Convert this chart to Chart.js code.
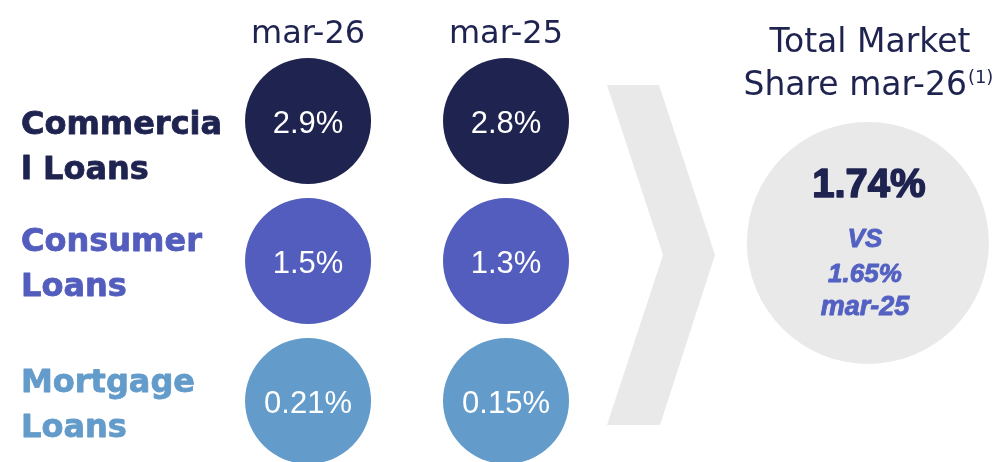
<!DOCTYPE html>
<html>
<head>
<meta charset="utf-8">
<script src="https://cdn.jsdelivr.net/npm/chart.js@4/dist/chart.umd.min.js"></script>
<style>
  html, body { margin: 0; padding: 0; background: #ffffff; }
  #wrap { width: 995px; height: 462px; position: relative; }
</style>
</head>
<body>
<div id="wrap"><canvas id="chart"></canvas></div>
<script>
// data
const periods = ['mar-26', 'mar-25'];
const categories = ['Commercial Loans', 'Consumer Loans', 'Mortgage Loans'];
const categoryLines = [['Commercia', 'l Loans'], ['Consumer', 'Loans'], ['Mortgage', 'Loans']];
const shareMar26 = [2.9, 1.5, 0.21];
const shareMar25 = [2.8, 1.3, 0.15];
const shareDecimals = [1, 1, 2];
const totalShareMar26 = 1.74;
const totalShareMar25 = 1.65;

// styling / layout
const COLORS = {
  navy: '#1f2350',
  rows: ['#1f2350', '#525dbd', '#639bca'],
  grey: '#e9e9e9',
  accent: '#5361c2'
};
const WORD_FONT = '"DejaVu Sans", sans-serif';
const NUM_FONT = '"Liberation Sans", Arial, sans-serif';
const labelOffset = [13, -10, -9];   // first baseline vs bubble centre
const totalPos = { x: 2.828, y: 0.871 };

const fmt = (v, d) => v.toFixed(d) + '%';

const rowDatasets = categories.map((name, r) => ({
  label: name,
  data: [
    { x: 0, y: r, v: shareMar26[r] },
    { x: 1, y: r, v: shareMar25[r] }
  ],
  backgroundColor: COLORS.rows[r],
  borderWidth: 0,
  pointRadius: 63,
  pointHoverRadius: 63,
  clip: false
}));

const totalDataset = {
  label: 'Total Market Share',
  data: [{ x: totalPos.x, y: totalPos.y, v: totalShareMar26 }],
  backgroundColor: COLORS.grey,
  borderWidth: 0,
  pointRadius: 121,
  pointHoverRadius: 121,
  clip: false
};

// fill text, optionally thickened with a thin stroke of the same colour
function heavyText(ctx, txt, x, y, w) {
  ctx.fillText(txt, x, y);
  if (w) {
    ctx.lineWidth = w;
    ctx.lineJoin = 'round';
    ctx.strokeStyle = ctx.fillStyle;
    ctx.strokeText(txt, x, y);
  }
}

const decorPlugin = {
  id: 'decor',
  beforeDatasetsDraw(chart) {
    const ctx = chart.ctx;
    // chevron
    ctx.save();
    ctx.fillStyle = COLORS.grey;
    ctx.beginPath();
    ctx.moveTo(607, 85);
    ctx.lineTo(659, 85);
    ctx.lineTo(715, 255);
    ctx.lineTo(660, 425);
    ctx.lineTo(607, 425);
    ctx.lineTo(663, 255);
    ctx.closePath();
    ctx.fill();
    ctx.restore();
  },
  afterDatasetsDraw(chart) {
    const ctx = chart.ctx;
    const xs = chart.scales.x, ys = chart.scales.y;
    ctx.save();
    ctx.textBaseline = 'alphabetic';

    // column headers
    ctx.fillStyle = COLORS.navy;
    ctx.font = '32px ' + WORD_FONT;
    ctx.textAlign = 'center';
    periods.forEach((p, i) => ctx.fillText(p, xs.getPixelForValue(i), 43));

    // row labels
    ctx.textAlign = 'left';
    ctx.font = 'bold 32px ' + WORD_FONT;
    categoryLines.forEach((lines, r) => {
      ctx.fillStyle = COLORS.rows[r];
      const base = ys.getPixelForValue(r) + labelOffset[r];
      lines.forEach((t, k) => heavyText(ctx, t, 21, base + k * 45, 0.8));
    });

    // bubble values
    ctx.textAlign = 'center';
    ctx.fillStyle = '#ffffff';
    ctx.font = '31px ' + NUM_FONT;
    rowDatasets.forEach((ds, r) => {
      ds.data.forEach(pt => {
        ctx.fillText(fmt(pt.v, shareDecimals[r]), xs.getPixelForValue(pt.x), ys.getPixelForValue(pt.y) + 12);
      });
    });

    // total block
    const cx = xs.getPixelForValue(totalPos.x);
    const cy = ys.getPixelForValue(totalPos.y);
    ctx.fillStyle = COLORS.navy;
    ctx.font = '33px ' + WORD_FONT;
    ctx.fillText('Total Market', cx + 2, 52);
    const l2 = 'Share mar-26';
    const sup = '(1)';
    const w1 = ctx.measureText(l2).width;
    ctx.font = '18px ' + WORD_FONT;
    const w2 = ctx.measureText(sup).width;
    const sx = cx - (w1 + w2) / 2;
    ctx.textAlign = 'left';
    ctx.font = '33px ' + WORD_FONT;
    ctx.fillText(l2, sx, 95);
    ctx.font = '18px ' + WORD_FONT;
    ctx.fillText(sup, sx + w1 + 1, 83);

    ctx.textAlign = 'center';
    ctx.font = 'bold 40px ' + NUM_FONT;
    heavyText(ctx, fmt(totalShareMar26, 2), cx + 1, cy - 46, 1.6);
    ctx.fillStyle = COLORS.accent;
    ctx.font = 'italic bold 26px ' + NUM_FONT;
    heavyText(ctx, 'VS', cx - 3, cy + 4, 0.9);
    heavyText(ctx, fmt(totalShareMar25, 2), cx - 3, cy + 39, 0.9);
    ctx.font = 'italic bold 27px ' + NUM_FONT;
    heavyText(ctx, periods[1], cx - 3, cy + 72, 0.9);
    ctx.restore();
  }
};

new Chart(document.getElementById('chart'), {
  type: 'scatter',
  data: { datasets: [...rowDatasets, totalDataset] },
  options: {
    responsive: true,
    maintainAspectRatio: false,
    animation: false,
    events: [],
    layout: { padding: 0, autoPadding: false },
    plugins: { legend: { display: false }, tooltip: { enabled: false } },
    scales: {
      x: { type: 'linear', display: false, min: -1.556, max: 3.47 },
      y: { type: 'linear', display: false, reverse: true, min: -0.864, max: 2.436 }
    }
  },
  plugins: [decorPlugin]
});
</script>
</body>
</html>
